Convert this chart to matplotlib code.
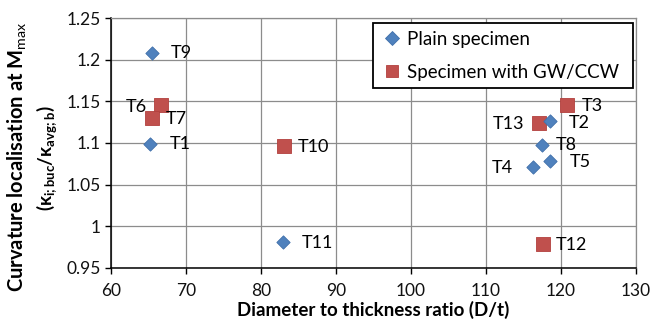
import matplotlib
matplotlib.use("Agg")
import matplotlib.pyplot as plt
from matplotlib.lines import Line2D

plt.rcParams['font.family'] = ['Lato', 'DejaVu Sans']
plt.rcParams['mathtext.fontset'] = 'custom'
plt.rcParams['mathtext.rm'] = 'Lato'
plt.rcParams['mathtext.it'] = 'Lato:italic'
plt.rcParams['mathtext.bf'] = 'Lato:bold'
plt.rcParams['mathtext.fallback'] = 'stixsans'

# Plain specimens
plain_names = ["T1", "T2", "T4", "T5", "T8", "T9", "T11"]
plain_dt = [65.2, 118.5, 116.2, 118.5, 117.4, 65.5, 82.9]
plain_kappa = [1.099, 1.126, 1.071, 1.078, 1.097, 1.208, 0.981]

# Specimens with girth weld / circumferential weld
weld_names = ["T3", "T6", "T7", "T10", "T12", "T13"]
weld_dt = [120.8, 66.6, 65.4, 83.1, 117.6, 117.0]
weld_kappa = [1.146, 1.146, 1.130, 1.096, 0.978, 1.124]

x_ticks = [60, 70, 80, 90, 100, 110, 120, 130]
y_ticks = [0.95, 1.0, 1.05, 1.1, 1.15, 1.2, 1.25]
y_tick_labels = ["0.95", "1", "1.05", "1.1", "1.15", "1.2", "1.25"]

# label placement (offset in points, horizontal alignment)
label_pos = {
    "T1": (14.5, 0, "left"), "T2": (13.5, -1.2, "left"), "T3": (10.5, -0.7, "left"),
    "T4": (-14, -0.5, "right"), "T5": (14.5, -0.7, "left"), "T6": (-10, -1.3, "right"),
    "T7": (10.5, -0.4, "left"), "T8": (10.5, 0.5, "left"), "T9": (13.5, 0, "left"),
    "T10": (10, -0.5, "left"), "T11": (13.5, -0.7, "left"), "T12": (9.5, -0.7, "left"),
    "T13": (-10.5, -1, "right"),
}

blue = "#4F81BD"
red = "#C0504D"

fig = plt.figure(figsize=(6.53, 3.25), dpi=100)
ax = fig.add_axes([0.170, 0.1763, 0.804, 0.7674])

ax.scatter(weld_dt, weld_kappa, marker="s", s=96, color=red,
           edgecolors="#B2403D", linewidths=0.6, zorder=3)
ax.scatter(plain_dt, plain_kappa, marker="D", s=46, color=blue,
           edgecolors="#3F6FAA", linewidths=0.6, zorder=4)

for names, xs, ys in ((plain_names, plain_dt, plain_kappa),
                      (weld_names, weld_dt, weld_kappa)):
    for n, xv, yv in zip(names, xs, ys):
        dx, dy, ha = label_pos[n]
        ax.annotate(n, (xv, yv), xytext=(dx, dy), textcoords="offset points",
                    ha=ha, va="center", fontsize=13, color="black", zorder=5)

ax.set_xlim(60, 130)
ax.set_ylim(0.95, 1.25)
ax.set_xticks(x_ticks)
ax.set_yticks(y_ticks)
ax.set_yticklabels(y_tick_labels)
ax.tick_params(axis="both", direction="out", length=4.3, width=1.0,
               color="black", labelsize=12.5, labelcolor="#111111")
ax.tick_params(axis="x", pad=7)
ax.tick_params(axis="y", pad=3)

ax.grid(True, color="#8C8C8C", linewidth=0.9)
ax.set_axisbelow(True)
for side in ("top", "right"):
    ax.spines[side].set_color("#8C8C8C")
    ax.spines[side].set_linewidth(0.9)
for side in ("left", "bottom"):
    ax.spines[side].set_color("black")
    ax.spines[side].set_linewidth(1.1)

ax.set_xlabel("Diameter to thickness ratio (D/t)", fontsize=13.5,
              fontweight="bold", labelpad=1)

fig.text(0.026, 0.518, r"Curvature localisation at M$_{\mathrm{max}}$",
         rotation=90, ha="center", va="center", fontsize=14.5, fontweight="bold")
fig.text(0.072, 0.513,
         r"$\mathbf{(\kappa}_{\mathbf{i;buc}}\mathbf{/\kappa}_{\mathbf{avg;b}}\mathbf{)}$",
         rotation=90, ha="center", va="center", fontsize=13.5)

handles = [
    Line2D([], [], linestyle="none", marker="D", markersize=6.8,
           markerfacecolor=blue, markeredgecolor="#3F6FAA", markeredgewidth=0.6),
    Line2D([], [], linestyle="none", marker="s", markersize=9.2,
           markerfacecolor=red, markeredgecolor="#B2403D", markeredgewidth=0.6),
]
leg = ax.legend(handles, ["Plain specimen", "Specimen with GW/CCW"],
                loc="upper left", bbox_to_anchor=(0.499, 0.7233, 0.4947, 0.2587),
                mode="expand", borderaxespad=0,
                fontsize=13.5, frameon=True, fancybox=False, framealpha=1,
                edgecolor="black", handlelength=1.2, handletextpad=0.2,
                borderpad=0.42, labelspacing=0.85)
leg.get_frame().set_linewidth(1.3)
leg.set_zorder(6)

fig.savefig("out.png", dpi=100)
